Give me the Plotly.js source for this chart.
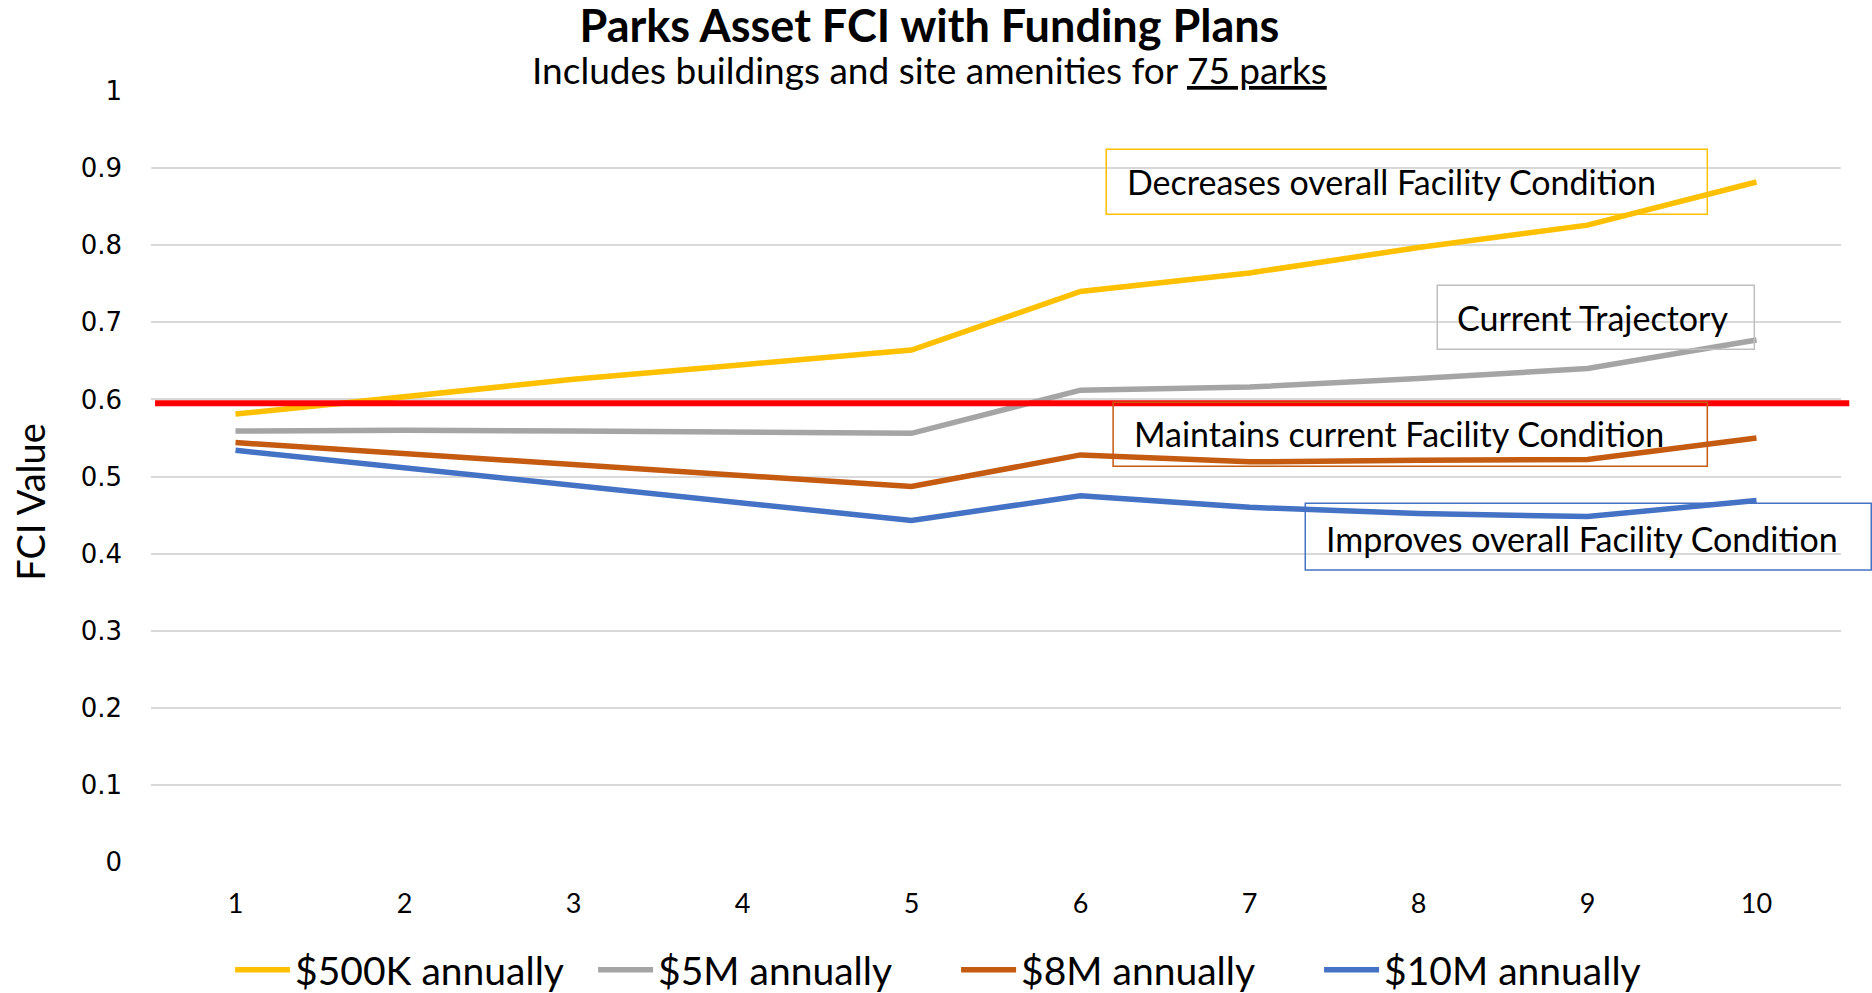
<!DOCTYPE html>
<html><head><meta charset="utf-8">
<script src="https://cdn.plot.ly/plotly-3.0.1.min.js"></script>
<style>html,body{margin:0;padding:0;background:#fff}#chart{width:1872px;height:993px}</style>
</head><body><div id="chart"></div>
<script>
// ---- data ----
const years = [1, 2, 3, 4, 5, 6, 7, 8, 9, 10];
const seriesNames = ['$500K annually', '$5M annually', '$8M annually', '$10M annually'];
const fci500K = [0.581, 0.604, 0.626, 0.645, 0.664, 0.740, 0.764, 0.797, 0.826, 0.882];
const fci5M   = [0.559, 0.560, 0.559, 0.558, 0.556, 0.612, 0.616, 0.627, 0.640, 0.677];
const fci8M   = [0.544, 0.530, 0.516, 0.502, 0.487, 0.528, 0.519, 0.521, 0.522, 0.550];
const fci10M  = [0.534, 0.511, 0.488, 0.466, 0.443, 0.475, 0.460, 0.452, 0.448, 0.469];
const threshold = 0.595;
const yTickVals = [0, 0.1, 0.2, 0.3, 0.4, 0.5, 0.6, 0.7, 0.8, 0.9, 1];
const yTickText = ['0', '0.1', '0.2', '0.3', '0.4', '0.5', '0.6', '0.7', '0.8', '0.9', '1'];
const boxLabels = ['Decreases overall Facility Condition', 'Current Trajectory',
                   'Maintains current Facility Condition', 'Improves overall Facility Condition'];
const titleText = 'Parks Asset FCI with Funding Plans';
const subtitleText = 'Includes buildings and site amenities for ';
const subtitleUnderlined = '75 parks';
const yTitle = 'FCI Value';

// ---- styling ----
const colors = ['#FFC000', '#A5A5A5', '#C55A11', '#4472C4'];
const boxColors = ['#FFC000', '#BFBFBF', '#C55A11', '#4472C4'];
const FONT = 'Lato, "Open Sans", sans-serif';
const seriesValues = [fci500K, fci5M, fci8M, fci10M];

const traces = seriesValues.map((vals, i) => ({
  x: years, y: vals, name: seriesNames[i], type: 'scatter', mode: 'lines',
  line: {color: colors[i], width: 5.5}, hoverinfo: 'x+y+name'
}));

// text box geometry (paper coords) – layout only
const boxes = [
  {x0: 0.5652, x1: 0.9209, y0: 0.8401, y1: 0.9244, tx: 0.5764, ty: 0.8830},
  {x0: 0.7611, x1: 0.9487, y0: 0.6651, y1: 0.7481, tx: 0.7717, ty: 0.7067},
  {x0: 0.5693, x1: 0.9209, y0: 0.5134, y1: 0.5964, tx: 0.5806, ty: 0.5559},
  {x0: 0.6830, x1: 1.0179, y0: 0.3786, y1: 0.4654, tx: 0.6942, ty: 0.4200}
];

const shapes = [{
  type: 'line', xref: 'paper', yref: 'y', x0: 0.0024, x1: 1.0049, y0: threshold, y1: threshold,
  line: {color: '#FF0000', width: 6}, layer: 'above'
}].concat(boxes.map((b, i) => ({
  type: 'rect', xref: 'paper', yref: 'paper', x0: b.x0, x1: b.x1, y0: b.y0, y1: b.y1,
  line: {color: boxColors[i], width: 1.5}, fillcolor: 'rgba(0,0,0,0)', layer: 'above'
})));

const annotations = boxes.map((b, i) => ({
  xref: 'paper', yref: 'paper', x: b.tx, y: b.ty, xanchor: 'left', yanchor: 'middle',
  text: boxLabels[i], showarrow: false, font: {family: FONT, size: 34, color: '#000'}
}));
annotations.push({
  xref: 'paper', yref: 'paper', x: 0.4607, y: 1.0275, xanchor: 'center', yanchor: 'middle',
  text: subtitleText + '<span style="text-decoration:underline">' + subtitleUnderlined + '</span>',
  showarrow: false, font: {family: FONT, size: 37, color: '#000'}
});
annotations.push({
  xref: 'paper', yref: 'paper', x: -0.0712, y: 0.4667, xanchor: 'center', yanchor: 'middle',
  text: yTitle, textangle: -90, showarrow: false, font: {family: FONT, size: 38, color: '#000'}
});

const layout = {
  width: 1872, height: 993,
  margin: {l: 151, r: 31.3, t: 90.7, b: 131, autoexpand: false},
  paper_bgcolor: '#fff', plot_bgcolor: '#fff',
  title: {
    text: '<b>' + titleText + '</b>', xref: 'container', x: 0.4965, xanchor: 'center',
    yref: 'container', y: 0.9733, yanchor: 'middle',
    font: {family: FONT, size: 45, color: '#000'}
  },
  xaxis: {
    range: [0.5, 10.5], tickmode: 'array', tickvals: years, ticktext: years.map(String),
    showgrid: false, zeroline: false, showline: false, ticks: '',
    tickfont: {family: FONT, size: 27, color: '#000'}, ticklabelstandoff: 23, fixedrange: true
  },
  yaxis: {
    range: [0, 1], tickmode: 'array', tickvals: yTickVals, ticktext: yTickText,
    showgrid: true, gridcolor: '#D9D9D9', gridwidth: 2, zeroline: false, showline: false, ticks: '',
    tickfont: {family: '"DejaVu Sans", sans-serif', size: 26, color: '#000'}, ticklabelstandoff: 28,
    fixedrange: true
  },
  showlegend: true,
  legend: {
    orientation: 'h', x: 0.0468, xanchor: 'left', y: -0.1400, yanchor: 'middle',
    font: {family: FONT, size: 39, color: '#000'}, itemwidth: 55, bgcolor: 'rgba(0,0,0,0)',
    entrywidth: 293, entrywidthmode: 'pixels'
  },
  shapes: shapes,
  annotations: annotations
};

Plotly.newPlot('chart', traces, layout, {displayModeBar: false, staticPlot: true});
</script>
</body></html>
